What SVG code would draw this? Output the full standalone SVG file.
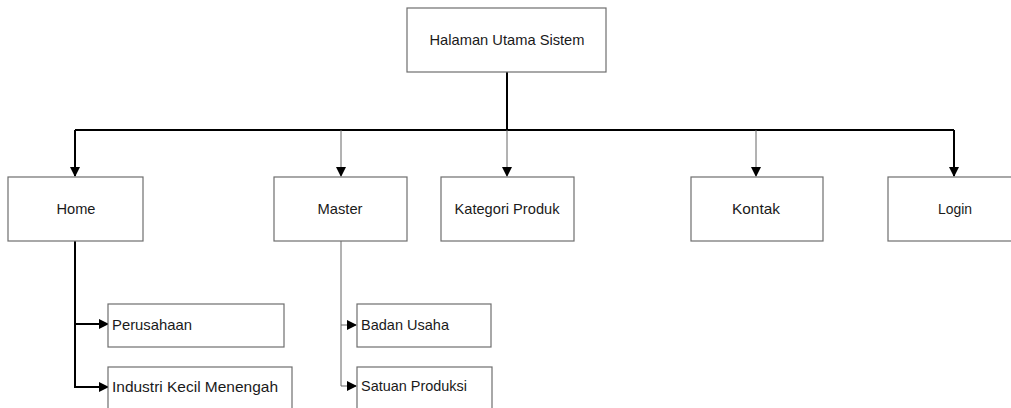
<svg xmlns="http://www.w3.org/2000/svg" width="1011" height="408" viewBox="0 0 1011 408">
<style>
.box{fill:#fff;stroke:#6e6e6e;stroke-width:1.2}
.t{font-family:"Liberation Sans",Arial,sans-serif;font-size:15px;fill:#1a1a1a}
.c{text-anchor:middle}
.thick{fill:none;stroke:#000;stroke-width:2}
.thin{fill:none;stroke:#666;stroke-width:1}
</style>
<defs>
<marker id="ah" markerWidth="10" markerHeight="10" refX="9" refY="5" orient="auto" markerUnits="userSpaceOnUse">
<path d="M0,0 L10,5 L0,10 Z" fill="#000"/>
</marker>
</defs>
<rect width="1011" height="408" fill="#fff"/>
<g id="connectors">
<path class="thick" d="M507,72 V130"/>
<path class="thick" d="M75,130 H954"/>
<path class="thick" d="M75,130 V176" marker-end="url(#ah)"/>
<path class="thin" d="M341,130 V176" marker-end="url(#ah)"/>
<path class="thin" d="M507,130 V176" marker-end="url(#ah)"/>
<path class="thin" d="M756,130 V176" marker-end="url(#ah)"/>
<path class="thick" d="M954,130 V176" marker-end="url(#ah)"/>
<path class="thick" d="M75,241 V387 H108"/>
<path class="thick" d="M75,324 H108" marker-end="url(#ah)"/>
<path class="thick" d="M100,387 H108" marker-end="url(#ah)"/>
<path class="thin" d="M341,241 V386 H356"/>
<path class="thin" d="M341,325 H356" marker-end="url(#ah)"/>
<path class="thin" d="M348,386 H356" marker-end="url(#ah)"/>
</g>
<g id="node-halaman"><rect class="box" x="407" y="8" width="199" height="64"/><text class="t c" x="507" y="45" textLength="155" lengthAdjust="spacingAndGlyphs">Halaman Utama Sistem</text></g>
<g id="node-home"><rect class="box" x="8" y="177" width="135" height="64"/><text class="t c" x="76" y="214" textLength="39" lengthAdjust="spacingAndGlyphs">Home</text></g>
<g id="node-master"><rect class="box" x="274" y="177" width="133" height="64"/><text class="t c" x="340" y="214" textLength="45" lengthAdjust="spacingAndGlyphs">Master</text></g>
<g id="node-kategori"><rect class="box" x="441" y="177" width="133" height="64"/><text class="t c" x="507" y="214" textLength="105" lengthAdjust="spacingAndGlyphs">Kategori Produk</text></g>
<g id="node-kontak"><rect class="box" x="691" y="177" width="132" height="64"/><text class="t c" x="756" y="214" textLength="48" lengthAdjust="spacingAndGlyphs">Kontak</text></g>
<g id="node-login"><rect class="box" x="888" y="177" width="133" height="64"/><text class="t c" x="955" y="214" textLength="34" lengthAdjust="spacingAndGlyphs">Login</text></g>
<g id="node-perusahaan"><rect class="box" x="108" y="304" width="176" height="43"/><text class="t" x="112" y="330" textLength="80" lengthAdjust="spacingAndGlyphs">Perusahaan</text></g>
<g id="node-ikm"><rect class="box" x="108" y="367" width="184" height="50"/><text class="t" x="112" y="392" textLength="166" lengthAdjust="spacingAndGlyphs">Industri Kecil Menengah</text></g>
<g id="node-badan"><rect class="box" x="357" y="304" width="134" height="43"/><text class="t" x="361" y="330" textLength="88" lengthAdjust="spacingAndGlyphs">Badan Usaha</text></g>
<g id="node-satuan"><rect class="box" x="357" y="367" width="135" height="50"/><text class="t" x="361" y="391" textLength="106" lengthAdjust="spacingAndGlyphs">Satuan Produksi</text></g>
</svg>
